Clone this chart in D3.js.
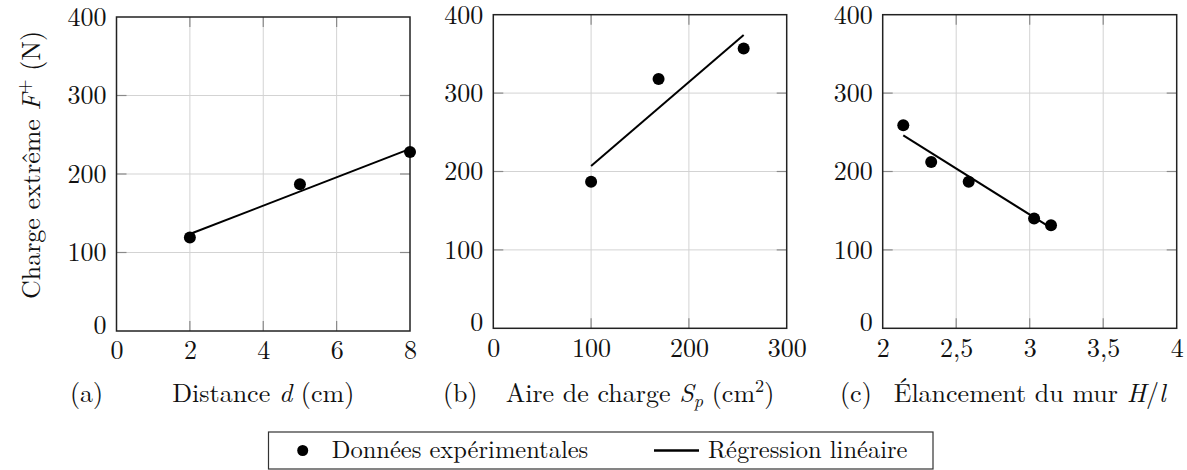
<!DOCTYPE html>
<html>
<head>
<meta charset="utf-8">
<script src="https://cdn.jsdelivr.net/npm/d3@7"></script>
<style>
  body { margin: 0; background: #fff; }
</style>
</head>
<body>
<div id="chart"></div>
<script>
// (a) distance
var distance = [2, 5, 8];
var chargeA = [119, 187, 228];
var fitA = [[2, 123.5], [8, 232]];
// (b) aire de charge
var aire = [100, 169, 256];
var chargeB = [187, 318, 357];
var fitB = [[100, 207], [256, 374]];
// (c) elancement
var elancement = [2.14, 2.33, 2.585, 3.03, 3.145];
var chargeC = [259, 212, 187, 140, 131.5];
var fitC = [[2.14, 246], [3.145, 128]];

var yTicks = [0, 100, 200, 300, 400];
var xTicksA = [0, 2, 4, 6, 8];
var xTicksB = [0, 100, 200, 300];
var xTicksC = [2, 2.5, 3, 3.5, 4];

var legendLabels = ["Données expérimentales", "Régression linéaire"];

var width = 1187,
    height = 470,
    fontSize = 26,
    font = "'Latin Modern Roman', 'Liberation Serif', serif";

var svg = d3.select("#chart")
    .append("svg")
    .attr("width", width)
    .attr("height", height)
    .style("font-family", font);

var frmt = function(d) { return String(d).replace(".", ","); };

/* text helper so the serif font always wins */
var txt = function(sel, size) {
    return sel.append("text")
        .style("font-family", font)
        .style("font-size", (size || fontSize) + "px")
        .attr("fill", "#111");
};

/* one panel */
var drawPanel = function(p) {
    var x = d3.scaleLinear().domain(p.xDomain).range([p.left, p.right]);
    var y = d3.scaleLinear().domain([0, 400]).range([p.bottom, p.top]);
    var g = svg.append("g");

    // grid
    g.append("g").selectAll("line").data(p.xTicks.slice(1, -1))
        .enter().append("line")
        .attr("x1", d => x(d)).attr("x2", d => x(d))
        .attr("y1", p.top).attr("y2", p.bottom)
        .attr("stroke", "#d3d3d3").attr("stroke-width", 1);
    g.append("g").selectAll("line").data(yTicks.slice(1, -1))
        .enter().append("line")
        .attr("y1", d => y(d)).attr("y2", d => y(d))
        .attr("x1", p.left).attr("x2", p.right)
        .attr("stroke", "#d3d3d3").attr("stroke-width", 1);

    // inner ticks on all four sides
    var tk = 10;
    p.xTicks.slice(1, -1).forEach(function(d) {
        g.append("line").attr("x1", x(d)).attr("x2", x(d))
            .attr("y1", p.bottom).attr("y2", p.bottom - tk)
            .attr("stroke", "#8a8a8a").attr("stroke-width", 1.2);
        g.append("line").attr("x1", x(d)).attr("x2", x(d))
            .attr("y1", p.top).attr("y2", p.top + tk)
            .attr("stroke", "#8a8a8a").attr("stroke-width", 1.2);
    });
    yTicks.slice(1, -1).forEach(function(d) {
        g.append("line").attr("y1", y(d)).attr("y2", y(d))
            .attr("x1", p.left).attr("x2", p.left + tk)
            .attr("stroke", "#8a8a8a").attr("stroke-width", 1.2);
        g.append("line").attr("y1", y(d)).attr("y2", y(d))
            .attr("x1", p.right).attr("x2", p.right - tk)
            .attr("stroke", "#8a8a8a").attr("stroke-width", 1.2);
    });

    // tick labels
    var xAxis = g.append("g")
        .attr("transform", "translate(0," + p.bottom + ")")
        .call(d3.axisBottom(x).tickValues(p.xTicks).tickFormat(frmt).tickSize(0).tickPadding(10));
    var yAxis = g.append("g")
        .attr("transform", "translate(" + p.left + ",0)")
        .call(d3.axisLeft(y).tickValues(yTicks).tickSize(0).tickPadding(10));
    [xAxis, yAxis].forEach(function(a) {
        a.attr("font-family", null).attr("font-size", null);
        a.select(".domain").remove();
        a.selectAll("text")
            .style("font-family", font)
            .style("font-size", fontSize + "px")
            .attr("fill", "#111");
    });
    // y label "0" sits a little higher
    yAxis.selectAll("text").filter(d => d === 0).attr("dy", "0.1em");

    // frame
    g.append("rect")
        .attr("x", p.left).attr("y", p.top)
        .attr("width", p.right - p.left).attr("height", p.bottom - p.top)
        .attr("fill", "none").attr("stroke", "#222").attr("stroke-width", 1.5);

    // regression
    g.append("path")
        .datum(p.fit)
        .attr("d", d3.line().x(d => x(d[0])).y(d => y(d[1])))
        .attr("fill", "none").attr("stroke", "#000").attr("stroke-width", 2);

    // data points
    g.append("g").selectAll("circle")
        .data(p.xs.map((d, i) => [d, p.ys[i]]))
        .enter().append("circle")
        .attr("cx", d => x(d[0])).attr("cy", d => y(d[1]))
        .attr("r", 6).attr("fill", "#000");

    // caption
    txt(g).attr("x", p.capX).attr("y", 402).text(p.cap);
    var lab = txt(g).attr("x", (p.left + p.right) / 2).attr("y", 402)
        .attr("text-anchor", "middle");
    p.label.forEach(function(s) {
        var t = lab.append("tspan").text(s.t);
        if (s.i) t.style("font-style", "italic");
        if (s.sub) t.attr("baseline-shift", "-5").style("font-size", (fontSize * 0.7) + "px");
        if (s.sup) t.attr("baseline-shift", "10").style("font-size", (fontSize * 0.7) + "px");
    });
};

var panels = [
    {left: 116.5, right: 410, top: 17, bottom: 331, xDomain: [0, 8], xTicks: xTicksA,
     xs: distance, ys: chargeA, fit: fitA, cap: "(a)", capX: 70,
     label: [{t: "Distance "}, {t: "d", i: true}, {t: " (cm)"}]},
    {left: 493.3, right: 786.7, top: 14.7, bottom: 328.3, xDomain: [0, 300], xTicks: xTicksB,
     xs: aire, ys: chargeB, fit: fitB, cap: "(b)", capX: 443,
     label: [{t: "Aire de charge "}, {t: "S", i: true}, {t: "p", i: true, sub: true}, {t: " (cm"}, {t: "2", sup: true}, {t: ")"}]},
    {left: 882.7, right: 1176.7, top: 14.7, bottom: 328.3, xDomain: [2, 4], xTicks: xTicksC,
     xs: elancement, ys: chargeC, fit: fitC, cap: "(c)", capX: 840,
     label: [{t: "Élancement du mur "}, {t: "H", i: true}, {t: "/"}, {t: "l", i: true}]}
];

panels.forEach(drawPanel);

/* y axis title */
var yt = txt(svg)
    .attr("transform", "translate(40,165) rotate(-90)")
    .attr("text-anchor", "middle");
yt.append("tspan").text("Charge extrême ");
yt.append("tspan").style("font-style", "italic").text("F");
yt.append("tspan").attr("baseline-shift", "10").style("font-size", (fontSize * 0.7) + "px").text("+");
yt.append("tspan").text(" (N)");

/* legend */
var lg = svg.append("g");
lg.append("rect").attr("x", 268.5).attr("y", 432).attr("width", 664.5).attr("height", 37)
    .attr("fill", "#fff").attr("stroke", "#333").attr("stroke-width", 1.2);
lg.append("circle").attr("cx", 302.7).attr("cy", 450.5).attr("r", 5.5).attr("fill", "#000");
txt(lg, 24.5).attr("x", 331.7).attr("y", 457.5).text(legendLabels[0]);
lg.append("line").attr("x1", 654).attr("x2", 699).attr("y1", 450.5).attr("y2", 450.5)
    .attr("stroke", "#000").attr("stroke-width", 2.5);
txt(lg, 24.5).attr("x", 708).attr("y", 457.5).text(legendLabels[1]);
</script>
</body>
</html>
